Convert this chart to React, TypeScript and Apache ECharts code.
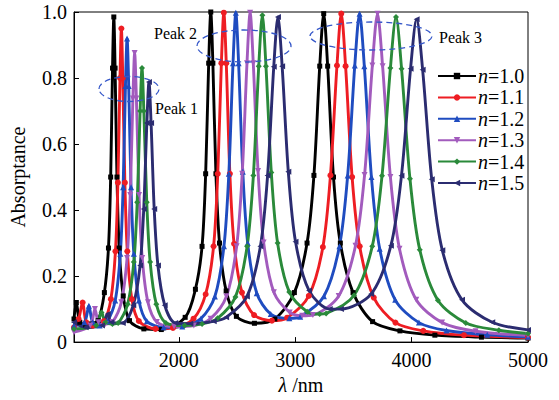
import React, { useEffect, useRef } from 'react';
import * as echarts from 'echarts';

const FONT = '"Liberation Serif", "DejaVu Serif", serif';

const seriesNames = ['n=1.0', 'n=1.1', 'n=1.2', 'n=1.3', 'n=1.4', 'n=1.5'];
const seriesColors = ['#000000', '#ee1d23', '#1f4cc0', '#a25bbd', '#2a8a3a', '#2b2c70'];
const seriesSymbols = ['rect', 'circle', 'triangle', 'triangle', 'diamond', 'triangle'];
const seriesRotate = [0, 0, 0, 180, 0, 90];

const xTicks = [2000, 3000, 4000, 5000];

// [wavelength nm, absorptance]
const n10 = [[1100,0.07],[1120,0.12],[1150,0.06],[1200,0.05],[1250,0.055],[1307,0.065],[1361,0.15],[1396,0.285],[1415,0.50],[1431,0.83],[1442,0.985],[1453,0.83],[1469,0.50],[1488,0.285],[1523,0.14],[1577,0.065],[1700,0.04],[1850,0.038],[2055,0.075],[2143,0.16],[2200,0.29],[2231,0.51],[2257,0.845],[2275,1.0],[2293,0.845],[2319,0.51],[2350,0.30],[2407,0.155],[2495,0.078],[2650,0.057],[2825,0.07],[2993,0.15],[3102,0.30],[3161,0.505],[3211,0.836],[3245,0.995],[3279,0.836],[3329,0.50],[3388,0.30],[3497,0.15],[3665,0.062],[3900,0.034],[4200,0.021],[4600,0.015],[5000,0.012]];
const n11 = [[1100,0.045],[1140,0.07],[1174,0.12],[1205,0.06],[1260,0.05],[1357,0.064],[1417,0.13],[1456,0.275],[1477,0.483],[1495,0.80],[1507,0.95],[1519,0.80],[1537,0.483],[1558,0.275],[1597,0.13],[1657,0.064],[1800,0.04],[1950,0.043],[2127,0.071],[2231,0.145],[2299,0.29],[2335,0.51],[2366,0.845],[2387,0.998],[2408,0.845],[2439,0.51],[2475,0.298],[2543,0.15],[2647,0.082],[2800,0.065],[2931,0.074],[3117,0.14],[3238,0.288],[3303,0.505],[3359,0.838],[3396,0.995],[3433,0.836],[3489,0.50],[3554,0.29],[3675,0.135],[3861,0.059],[4100,0.034],[4450,0.021],[5000,0.014]];
const n12 = [[1100,0.05],[1190,0.06],[1228,0.11],[1260,0.06],[1320,0.05],[1386,0.063],[1454,0.126],[1498,0.268],[1522,0.469],[1542,0.776],[1556,0.92],[1570,0.776],[1590,0.469],[1614,0.268],[1658,0.126],[1726,0.063],[1870,0.045],[2030,0.047],[2190,0.071],[2310,0.138],[2388,0.29],[2430,0.51],[2466,0.845],[2490,0.998],[2514,0.845],[2550,0.516],[2592,0.30],[2670,0.148],[2790,0.085],[2950,0.072],[3043,0.077],[3247,0.139],[3380,0.29],[3451,0.505],[3512,0.838],[3553,0.995],[3594,0.836],[3655,0.50],[3726,0.283],[3859,0.128],[4063,0.059],[4300,0.035],[4650,0.022],[5000,0.016]];
const n13 = [[1100,0.03],[1240,0.05],[1280,0.10],[1310,0.06],[1370,0.055],[1431,0.061],[1507,0.121],[1556,0.255],[1583,0.446],[1606,0.738],[1621,0.876],[1636,0.738],[1659,0.446],[1686,0.255],[1735,0.121],[1811,0.061],[1960,0.047],[2130,0.05],[2273,0.071],[2409,0.138],[2497,0.29],[2545,0.51],[2586,0.845],[2613,0.998],[2640,0.845],[2681,0.518],[2729,0.302],[2817,0.151],[2953,0.09],[3060,0.08],[3152,0.082],[3374,0.14],[3518,0.292],[3596,0.506],[3663,0.838],[3707,0.995],[3751,0.836],[3818,0.50],[3896,0.283],[4040,0.128],[4262,0.059],[4550,0.033],[5000,0.02]];
const n14 = [[1100,0.04],[1290,0.05],[1336,0.09],[1370,0.06],[1430,0.055],[1479,0.058],[1561,0.115],[1614,0.243],[1643,0.424],[1668,0.70],[1684,0.83],[1700,0.70],[1725,0.424],[1754,0.243],[1807,0.115],[1889,0.058],[2050,0.05],[2200,0.055],[2333,0.072],[2487,0.137],[2587,0.29],[2641,0.505],[2687,0.836],[2718,0.99],[2749,0.836],[2795,0.514],[2849,0.30],[2949,0.152],[3103,0.092],[3210,0.085],[3266,0.087],[3506,0.142],[3662,0.29],[3746,0.504],[3818,0.83],[3866,0.985],[3914,0.828],[3986,0.495],[4070,0.28],[4226,0.127],[4466,0.058],[4750,0.036],[5000,0.026]];
const n15 = [[1100,0.06],[1200,0.045],[1340,0.05],[1390,0.085],[1420,0.06],[1519,0.058],[1609,0.112],[1668,0.232],[1699,0.403],[1726,0.664],[1744,0.788],[1762,0.664],[1789,0.403],[1821,0.232],[1879,0.112],[1969,0.058],[2100,0.056],[2300,0.063],[2407,0.075],[2585,0.138],[2701,0.29],[2763,0.505],[2816,0.834],[2852,0.985],[2888,0.836],[2941,0.516],[3003,0.304],[3119,0.156],[3297,0.10],[3393,0.10],[3653,0.146],[3822,0.292],[3913,0.504],[3991,0.828],[4043,0.978],[4095,0.825],[4173,0.493],[4264,0.278],[4433,0.128],[4693,0.06],[5000,0.037]];

const seriesData = [n10, n11, n12, n13, n14, n15];

const peakLabels = ['Peak 1', 'Peak 2', 'Peak 3'];

export default function App() {
  const ref = useRef<HTMLDivElement>(null);
  useEffect(() => {
    const chart = echarts.init(ref.current as HTMLDivElement, null, { renderer: 'svg' });
    const dash = { fill: 'none', stroke: '#3557c9', lineWidth: 1.3, lineDash: [6, 4] };
    const option: any = {
      animation: false,
      backgroundColor: '#ffffff',
      grid: { left: 71, right: 31, top: 12, bottom: 48, show: true, borderColor: '#000', borderWidth: 1 },
      xAxis: {
        type: 'value', min: 1100, max: 5000,
        name: '{i|λ} /nm', nameLocation: 'middle', nameGap: 30,
        nameTextStyle: { fontFamily: FONT, fontSize: 20, color: '#000', rich: { i: { fontFamily: FONT, fontSize: 20, fontStyle: 'italic', color: '#000' } } },
        axisLine: { lineStyle: { color: '#000', width: 1 } },
        axisTick: { inside: true, length: 5, customValues: xTicks, lineStyle: { color: '#000' } },
        axisLabel: { customValues: xTicks, fontFamily: FONT, fontSize: 20, color: '#000', margin: 8, formatter: (v: number) => String(v) },
        splitLine: { show: false },
      },
      yAxis: {
        type: 'value', min: 0, max: 1, interval: 0.2,
        name: 'Absorptance', nameLocation: 'middle', nameGap: 46,
        nameTextStyle: { fontFamily: FONT, fontSize: 20, color: '#000' },
        axisLine: { lineStyle: { color: '#000', width: 1 } },
        axisTick: { inside: true, length: 5, lineStyle: { color: '#000' } },
        axisLabel: { fontFamily: FONT, fontSize: 20, color: '#000', margin: 7, formatter: (v: number) => (v === 0 ? '0' : v.toFixed(1)) },
        splitLine: { show: false },
      },
      legend: {
        orient: 'vertical', left: 432, top: 61, itemWidth: 38, itemHeight: 8, itemGap: 1.4,
        data: seriesNames,
        formatter: (name: string) => `{i|n}{r|${name.slice(1)}}`,
        textStyle: { fontFamily: FONT, fontSize: 20, color: '#000', padding: [0, 0, 0, -3],
          rich: { i: { fontFamily: FONT, fontSize: 20, fontStyle: 'italic', color: '#000', lineHeight: 18 }, r: { fontFamily: FONT, fontSize: 20, color: '#000', lineHeight: 18 } } },
      },
      series: seriesData.map((d, i) => ({
        name: seriesNames[i], type: 'line', data: d, smooth: 0.3,
        symbol: seriesSymbols[i], symbolRotate: seriesRotate[i], symbolSize: i === 0 ? 5 : 6,
        showAllSymbol: true,
        lineStyle: { color: seriesColors[i], width: 2.9 },
        itemStyle: { color: seriesColors[i] },
      })),
      graphic: [
        { type: 'ellipse', shape: { cx: 129, cy: 89, rx: 30, ry: 12.5 }, style: dash, z: 100 },
        { type: 'ellipse', shape: { cx: 244, cy: 46, rx: 47, ry: 16 }, style: dash, z: 100 },
        { type: 'ellipse', shape: { cx: 371, cy: 36, rx: 61, ry: 14 }, style: dash, z: 100 },
        { type: 'text', x: 155, y: 108, style: { text: peakLabels[0], font: `16px ${FONT}`, fill: '#000', textVerticalAlign: 'middle' }, z: 100 },
        { type: 'text', x: 154, y: 33, style: { text: peakLabels[1], font: `16px ${FONT}`, fill: '#000', textVerticalAlign: 'middle' }, z: 100 },
        { type: 'text', x: 439, y: 37, style: { text: peakLabels[2], font: `16px ${FONT}`, fill: '#000', textVerticalAlign: 'middle' }, z: 100 },
      ],
    };
    chart.setOption(option);
    return () => chart.dispose();
  }, []);
  return <div ref={ref} style={{ position: 'fixed', left: 0, top: 0, width: 559, height: 400 }} />;
}
